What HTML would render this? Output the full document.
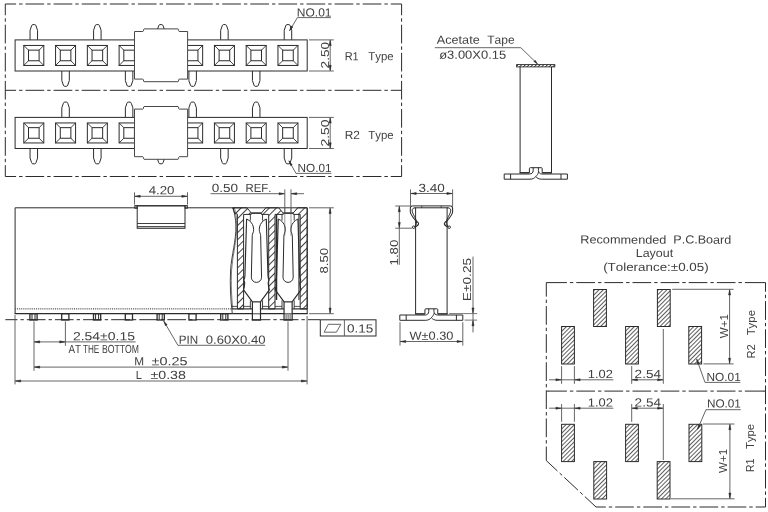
<!DOCTYPE html>
<html lang="en">
<head>
<meta charset="utf-8">
<title>Connector drawing</title>
<style>
html,body{margin:0;padding:0;background:#fff;}
body{width:768px;height:512px;overflow:hidden;}
svg{display:block;will-change:transform;}
svg *{vector-effect:none;}
.d{fill:none;stroke:#2b2b2b;stroke-width:1;stroke-linecap:butt;stroke-linejoin:miter;}
.t{white-space:pre;font-kerning:none;font-family:"Liberation Sans","DejaVu Sans",sans-serif;font-size:11.8px;fill:#404040;stroke:none;stroke-linejoin:round;}
.cl{fill:none;stroke:#2b2b2b;stroke-width:1;stroke-dasharray:18.7 3 3.4 3;}
</style>
</head>
<body>
<svg width="768" height="512" viewBox="0 0 768 512">
<defs>
<pattern id="hatch" width="3" height="3" patternUnits="userSpaceOnUse" patternTransform="rotate(-45)">
<line x1="0" y1="1.5" x2="3" y2="1.5" stroke="#333" stroke-width="0.8"/>
</pattern>
<pattern id="hatch2" width="5" height="5" patternUnits="userSpaceOnUse" patternTransform="rotate(-45)">
<line x1="0" y1="2.5" x2="5" y2="2.5" stroke="#2b2b2b" stroke-width="0.9"/>
</pattern>
<pattern id="hatch3" width="2.6" height="2.6" patternUnits="userSpaceOnUse" patternTransform="rotate(-45)">
<line x1="0" y1="1.3" x2="2.6" y2="1.3" stroke="#2b2b2b" stroke-width="0.9"/>
</pattern>
</defs>
<rect x="0" y="0" width="768" height="512" fill="#fff"/>
<g class="d">
<line class="cl" x1="5.3" y1="4" x2="401.6" y2="4" stroke-dashoffset="7.9"/>
<line class="cl" x1="5.3" y1="90.3" x2="401.6" y2="90.3" stroke-dashoffset="7.9"/>
<line class="cl" x1="5.3" y1="176.5" x2="401.6" y2="176.5" stroke-dashoffset="7.9"/>
<line class="cl" x1="5.3" y1="4" x2="5.3" y2="176.5" stroke-dashoffset="7.4"/>
<line class="cl" x1="401.6" y1="4" x2="401.6" y2="176.5" stroke-dashoffset="7.4"/>
<path d="M30.05 39.9 V30.3 L31.6 25.8 Q32 24.6 32.8 24.6 H34.8 Q35.6 24.6 36 25.8 L37.55 30.3 V39.9"/>
<path d="M61.82 71 V80.6 L63.37 85.1 Q63.77 86.3 64.57 86.3 H66.57 Q67.37 86.3 67.77 85.1 L69.32 80.6 V71"/>
<path d="M93.59 39.9 V30.3 L95.14 25.8 Q95.54 24.6 96.34 24.6 H98.34 Q99.14 24.6 99.54 25.8 L101.09 30.3 V39.9"/>
<path d="M125.36 71 V80.6 L126.91 85.1 Q127.31 86.3 128.11 86.3 H130.11 Q130.91 86.3 131.31 85.1 L132.86 80.6 V71"/>
<path d="M157.13 39.9 V30.3 L158.68 25.8 Q159.08 24.6 159.88 24.6 H161.88 Q162.68 24.6 163.08 25.8 L164.63 30.3 V39.9"/>
<path d="M188.9 71 V80.6 L190.45 85.1 Q190.85 86.3 191.65 86.3 H193.65 Q194.45 86.3 194.85 85.1 L196.4 80.6 V71"/>
<path d="M220.67 39.9 V30.3 L222.22 25.8 Q222.62 24.6 223.42 24.6 H225.42 Q226.22 24.6 226.62 25.8 L228.17 30.3 V39.9"/>
<path d="M252.44 71 V80.6 L253.99 85.1 Q254.39 86.3 255.19 86.3 H257.19 Q257.99 86.3 258.39 85.1 L259.94 80.6 V71"/>
<path d="M284.21 39.9 V30.3 L285.76 25.8 Q286.16 24.6 286.96 24.6 H288.96 Q289.76 24.6 290.16 25.8 L291.71 30.3 V39.9"/>
<rect x="15.1" y="39.9" width="292.1" height="31.1" fill="#fff"/>
<rect x="23.8" y="45.45" width="20" height="20"/>
<rect x="28.5" y="50.15" width="10.6" height="10.6"/>
<line x1="23.8" y1="45.45" x2="28.5" y2="50.15" stroke-width="0.9"/>
<line x1="23.8" y1="65.45" x2="28.5" y2="60.75" stroke-width="0.9"/>
<line x1="43.8" y1="45.45" x2="39.1" y2="50.15" stroke-width="0.9"/>
<line x1="43.8" y1="65.45" x2="39.1" y2="60.75" stroke-width="0.9"/>
<rect x="55.57" y="45.45" width="20" height="20"/>
<rect x="60.27" y="50.15" width="10.6" height="10.6"/>
<line x1="55.57" y1="45.45" x2="60.27" y2="50.15" stroke-width="0.9"/>
<line x1="55.57" y1="65.45" x2="60.27" y2="60.75" stroke-width="0.9"/>
<line x1="75.57" y1="45.45" x2="70.87" y2="50.15" stroke-width="0.9"/>
<line x1="75.57" y1="65.45" x2="70.87" y2="60.75" stroke-width="0.9"/>
<rect x="87.34" y="45.45" width="20" height="20"/>
<rect x="92.04" y="50.15" width="10.6" height="10.6"/>
<line x1="87.34" y1="45.45" x2="92.04" y2="50.15" stroke-width="0.9"/>
<line x1="87.34" y1="65.45" x2="92.04" y2="60.75" stroke-width="0.9"/>
<line x1="107.34" y1="45.45" x2="102.64" y2="50.15" stroke-width="0.9"/>
<line x1="107.34" y1="65.45" x2="102.64" y2="60.75" stroke-width="0.9"/>
<rect x="119.11" y="45.45" width="20" height="20"/>
<rect x="123.81" y="50.15" width="10.6" height="10.6"/>
<line x1="119.11" y1="45.45" x2="123.81" y2="50.15" stroke-width="0.9"/>
<line x1="119.11" y1="65.45" x2="123.81" y2="60.75" stroke-width="0.9"/>
<line x1="139.11" y1="45.45" x2="134.41" y2="50.15" stroke-width="0.9"/>
<line x1="139.11" y1="65.45" x2="134.41" y2="60.75" stroke-width="0.9"/>
<rect x="182.65" y="45.45" width="20" height="20"/>
<rect x="187.35" y="50.15" width="10.6" height="10.6"/>
<line x1="182.65" y1="45.45" x2="187.35" y2="50.15" stroke-width="0.9"/>
<line x1="182.65" y1="65.45" x2="187.35" y2="60.75" stroke-width="0.9"/>
<line x1="202.65" y1="45.45" x2="197.95" y2="50.15" stroke-width="0.9"/>
<line x1="202.65" y1="65.45" x2="197.95" y2="60.75" stroke-width="0.9"/>
<rect x="214.42" y="45.45" width="20" height="20"/>
<rect x="219.12" y="50.15" width="10.6" height="10.6"/>
<line x1="214.42" y1="45.45" x2="219.12" y2="50.15" stroke-width="0.9"/>
<line x1="214.42" y1="65.45" x2="219.12" y2="60.75" stroke-width="0.9"/>
<line x1="234.42" y1="45.45" x2="229.72" y2="50.15" stroke-width="0.9"/>
<line x1="234.42" y1="65.45" x2="229.72" y2="60.75" stroke-width="0.9"/>
<rect x="246.19" y="45.45" width="20" height="20"/>
<rect x="250.89" y="50.15" width="10.6" height="10.6"/>
<line x1="246.19" y1="45.45" x2="250.89" y2="50.15" stroke-width="0.9"/>
<line x1="246.19" y1="65.45" x2="250.89" y2="60.75" stroke-width="0.9"/>
<line x1="266.19" y1="45.45" x2="261.49" y2="50.15" stroke-width="0.9"/>
<line x1="266.19" y1="65.45" x2="261.49" y2="60.75" stroke-width="0.9"/>
<rect x="277.96" y="45.45" width="20" height="20"/>
<rect x="282.66" y="50.15" width="10.6" height="10.6"/>
<line x1="277.96" y1="45.45" x2="282.66" y2="50.15" stroke-width="0.9"/>
<line x1="277.96" y1="65.45" x2="282.66" y2="60.75" stroke-width="0.9"/>
<line x1="297.96" y1="45.45" x2="293.26" y2="50.15" stroke-width="0.9"/>
<line x1="297.96" y1="65.45" x2="293.26" y2="60.75" stroke-width="0.9"/>
<path d="M134.5 31.5 L142.9 31.5 L143.5 30.9 L143.5 29.4 L144 28.9 L178.1 28.9 L178.6 29.4 L178.6 30.9 L179.2 31.5 L187.6 31.5 L187.6 79.1 L179.2 79.1 L178.6 79.7 L178.6 81.2 L178.1 81.7 L144 81.7 L143.5 81.2 L143.5 79.7 L142.9 79.1 L134.5 79.1 Z" fill="#fff" stroke="#484848"/>
<line x1="309" y1="39.9" x2="333.8" y2="39.9" stroke-width="0.9" stroke="#555"/>
<line x1="309" y1="71" x2="333.8" y2="71" stroke-width="0.9" stroke="#555"/>
<line x1="330.2" y1="39.9" x2="330.2" y2="71" stroke-width="0.9" stroke="#555"/>
<path d="M330.2 40.5 L331.25 45.6 L329.15 45.6 Z" fill="#2b2b2b" stroke="#2b2b2b" stroke-width="0.5" stroke-linejoin="miter"/>
<path d="M330.2 70.4 L329.15 65.3 L331.25 65.3 Z" fill="#2b2b2b" stroke="#2b2b2b" stroke-width="0.5" stroke-linejoin="miter"/>
<text class="t" x="328.7" y="68.39" textLength="26.62" lengthAdjust="spacingAndGlyphs" transform="rotate(-90 328.7 68.39)" font-size="12.86" stroke="#404040" stroke-width="0.12">2.50</text>
<path d="M30.05 148.5 V158.1 L31.6 162.6 Q32 163.8 32.8 163.8 H34.8 Q35.6 163.8 36 162.6 L37.55 158.1 V148.5"/>
<path d="M61.82 117.4 V107.8 L63.37 103.3 Q63.77 102.1 64.57 102.1 H66.57 Q67.37 102.1 67.77 103.3 L69.32 107.8 V117.4"/>
<path d="M93.59 148.5 V158.1 L95.14 162.6 Q95.54 163.8 96.34 163.8 H98.34 Q99.14 163.8 99.54 162.6 L101.09 158.1 V148.5"/>
<path d="M125.36 117.4 V107.8 L126.91 103.3 Q127.31 102.1 128.11 102.1 H130.11 Q130.91 102.1 131.31 103.3 L132.86 107.8 V117.4"/>
<path d="M157.13 148.5 V158.1 L158.68 162.6 Q159.08 163.8 159.88 163.8 H161.88 Q162.68 163.8 163.08 162.6 L164.63 158.1 V148.5"/>
<path d="M188.9 117.4 V107.8 L190.45 103.3 Q190.85 102.1 191.65 102.1 H193.65 Q194.45 102.1 194.85 103.3 L196.4 107.8 V117.4"/>
<path d="M220.67 148.5 V158.1 L222.22 162.6 Q222.62 163.8 223.42 163.8 H225.42 Q226.22 163.8 226.62 162.6 L228.17 158.1 V148.5"/>
<path d="M252.44 117.4 V107.8 L253.99 103.3 Q254.39 102.1 255.19 102.1 H257.19 Q257.99 102.1 258.39 103.3 L259.94 107.8 V117.4"/>
<path d="M284.21 148.5 V158.1 L285.76 162.6 Q286.16 163.8 286.96 163.8 H288.96 Q289.76 163.8 290.16 162.6 L291.71 158.1 V148.5"/>
<rect x="15.1" y="117.4" width="292.1" height="31.1" fill="#fff"/>
<rect x="23.8" y="122.95" width="20" height="20"/>
<rect x="28.5" y="127.65" width="10.6" height="10.6"/>
<line x1="23.8" y1="122.95" x2="28.5" y2="127.65" stroke-width="0.9"/>
<line x1="23.8" y1="142.95" x2="28.5" y2="138.25" stroke-width="0.9"/>
<line x1="43.8" y1="122.95" x2="39.1" y2="127.65" stroke-width="0.9"/>
<line x1="43.8" y1="142.95" x2="39.1" y2="138.25" stroke-width="0.9"/>
<rect x="55.57" y="122.95" width="20" height="20"/>
<rect x="60.27" y="127.65" width="10.6" height="10.6"/>
<line x1="55.57" y1="122.95" x2="60.27" y2="127.65" stroke-width="0.9"/>
<line x1="55.57" y1="142.95" x2="60.27" y2="138.25" stroke-width="0.9"/>
<line x1="75.57" y1="122.95" x2="70.87" y2="127.65" stroke-width="0.9"/>
<line x1="75.57" y1="142.95" x2="70.87" y2="138.25" stroke-width="0.9"/>
<rect x="87.34" y="122.95" width="20" height="20"/>
<rect x="92.04" y="127.65" width="10.6" height="10.6"/>
<line x1="87.34" y1="122.95" x2="92.04" y2="127.65" stroke-width="0.9"/>
<line x1="87.34" y1="142.95" x2="92.04" y2="138.25" stroke-width="0.9"/>
<line x1="107.34" y1="122.95" x2="102.64" y2="127.65" stroke-width="0.9"/>
<line x1="107.34" y1="142.95" x2="102.64" y2="138.25" stroke-width="0.9"/>
<rect x="119.11" y="122.95" width="20" height="20"/>
<rect x="123.81" y="127.65" width="10.6" height="10.6"/>
<line x1="119.11" y1="122.95" x2="123.81" y2="127.65" stroke-width="0.9"/>
<line x1="119.11" y1="142.95" x2="123.81" y2="138.25" stroke-width="0.9"/>
<line x1="139.11" y1="122.95" x2="134.41" y2="127.65" stroke-width="0.9"/>
<line x1="139.11" y1="142.95" x2="134.41" y2="138.25" stroke-width="0.9"/>
<rect x="182.65" y="122.95" width="20" height="20"/>
<rect x="187.35" y="127.65" width="10.6" height="10.6"/>
<line x1="182.65" y1="122.95" x2="187.35" y2="127.65" stroke-width="0.9"/>
<line x1="182.65" y1="142.95" x2="187.35" y2="138.25" stroke-width="0.9"/>
<line x1="202.65" y1="122.95" x2="197.95" y2="127.65" stroke-width="0.9"/>
<line x1="202.65" y1="142.95" x2="197.95" y2="138.25" stroke-width="0.9"/>
<rect x="214.42" y="122.95" width="20" height="20"/>
<rect x="219.12" y="127.65" width="10.6" height="10.6"/>
<line x1="214.42" y1="122.95" x2="219.12" y2="127.65" stroke-width="0.9"/>
<line x1="214.42" y1="142.95" x2="219.12" y2="138.25" stroke-width="0.9"/>
<line x1="234.42" y1="122.95" x2="229.72" y2="127.65" stroke-width="0.9"/>
<line x1="234.42" y1="142.95" x2="229.72" y2="138.25" stroke-width="0.9"/>
<rect x="246.19" y="122.95" width="20" height="20"/>
<rect x="250.89" y="127.65" width="10.6" height="10.6"/>
<line x1="246.19" y1="122.95" x2="250.89" y2="127.65" stroke-width="0.9"/>
<line x1="246.19" y1="142.95" x2="250.89" y2="138.25" stroke-width="0.9"/>
<line x1="266.19" y1="122.95" x2="261.49" y2="127.65" stroke-width="0.9"/>
<line x1="266.19" y1="142.95" x2="261.49" y2="138.25" stroke-width="0.9"/>
<rect x="277.96" y="122.95" width="20" height="20"/>
<rect x="282.66" y="127.65" width="10.6" height="10.6"/>
<line x1="277.96" y1="122.95" x2="282.66" y2="127.65" stroke-width="0.9"/>
<line x1="277.96" y1="142.95" x2="282.66" y2="138.25" stroke-width="0.9"/>
<line x1="297.96" y1="122.95" x2="293.26" y2="127.65" stroke-width="0.9"/>
<line x1="297.96" y1="142.95" x2="293.26" y2="138.25" stroke-width="0.9"/>
<path d="M134.5 109.1 L142.9 109.1 L143.5 108.5 L143.5 107 L144 106.5 L178.1 106.5 L178.6 107 L178.6 108.5 L179.2 109.1 L187.6 109.1 L187.6 156.7 L179.2 156.7 L178.6 157.3 L178.6 158.8 L178.1 159.3 L144 159.3 L143.5 158.8 L143.5 157.3 L142.9 156.7 L134.5 156.7 Z" fill="#fff" stroke="#484848"/>
<line x1="309" y1="117.4" x2="333.8" y2="117.4" stroke-width="0.9" stroke="#555"/>
<line x1="309" y1="148.5" x2="333.8" y2="148.5" stroke-width="0.9" stroke="#555"/>
<line x1="330.2" y1="117.4" x2="330.2" y2="148.5" stroke-width="0.9" stroke="#555"/>
<path d="M330.2 118 L331.25 123.1 L329.15 123.1 Z" fill="#2b2b2b" stroke="#2b2b2b" stroke-width="0.5" stroke-linejoin="miter"/>
<path d="M330.2 147.9 L329.15 142.8 L331.25 142.8 Z" fill="#2b2b2b" stroke="#2b2b2b" stroke-width="0.5" stroke-linejoin="miter"/>
<text class="t" x="328.7" y="146.5" textLength="27.15" lengthAdjust="spacingAndGlyphs" transform="rotate(-90 328.7 146.5)" font-size="12.86" stroke="#404040" stroke-width="0.12">2.50</text>
<text class="t" x="344.7" y="60.3" textLength="14.04" lengthAdjust="spacingAndGlyphs" transform="rotate(0.05 344.7 60.3)" stroke="#404040" stroke-width="0.18">R1</text>
<text class="t" x="368.34" y="60.3" textLength="25.26" lengthAdjust="spacingAndGlyphs" transform="rotate(0.05 368.34 60.3)" stroke="#404040" stroke-width="0.15">Type</text>
<text class="t" x="344.63" y="138.9" textLength="15.17" lengthAdjust="spacingAndGlyphs" transform="rotate(0.05 344.63 138.9)" stroke="#404040" stroke-width="0.12">R2</text>
<text class="t" x="368.34" y="138.9" textLength="25.26" lengthAdjust="spacingAndGlyphs" transform="rotate(0.05 368.34 138.9)" stroke="#404040" stroke-width="0.15">Type</text>
<text class="t" x="296.82" y="16.4" textLength="34.67" lengthAdjust="spacingAndGlyphs" transform="rotate(0.05 296.82 16.4)" stroke="#404040" stroke-width="0.12">NO.01</text>
<path d="M330.9 17.6 L297.4 17.6 L289.4 31" stroke-width="0.9" stroke="#555"/>
<path d="M289.71 30.48 L291.21 26.02 L292.92 27.05 Z" fill="#2b2b2b" stroke="#2b2b2b" stroke-width="0.5" stroke-linejoin="miter"/>
<text class="t" x="297.53" y="172" textLength="34.04" lengthAdjust="spacingAndGlyphs" transform="rotate(0.05 297.53 172)" stroke="#404040" stroke-width="0.12">NO.01</text>
<path d="M331.4 173.4 L296 173.4 L288.8 160.6" stroke-width="0.9" stroke="#555"/>
<path d="M289.09 161.12 L292.22 164.64 L290.48 165.62 Z" fill="#2b2b2b" stroke="#2b2b2b" stroke-width="0.5" stroke-linejoin="miter"/>
<path d="M232 207.8 L15.1 207.8 L15.1 313.7"/>
<line x1="14.6" y1="313.7" x2="232.2" y2="313.7" stroke-width="1.3"/>
<line x1="307.2" y1="207.8" x2="307.2" y2="313.7"/>
<line x1="232" y1="207.8" x2="307.2" y2="207.8"/>
<line x1="232.2" y1="313.7" x2="307.7" y2="313.7" stroke-width="1.3"/>
<line x1="15.1" y1="308.9" x2="233" y2="308.9" stroke-dasharray="1 0.9" stroke-width="1.3" stroke="#555"/>
<rect x="137.2" y="205.8" width="47.8" height="22.5" fill="#fff"/>
<line x1="137.2" y1="223.5" x2="185" y2="223.5" stroke-width="0.9"/>
<line x1="137.2" y1="226.7" x2="185" y2="226.7"/>
<line x1="134.6" y1="205.8" x2="187.6" y2="205.8"/>
<rect x="134.8" y="205.8" width="2.4" height="2.5" stroke-width="0.8"/>
<rect x="185" y="205.8" width="2.4" height="2.5" stroke-width="0.8"/>
<line x1="134.5" y1="192.3" x2="134.5" y2="204.6" stroke-width="0.9" stroke="#555"/>
<line x1="187.5" y1="192.3" x2="187.5" y2="204.6" stroke-width="0.9" stroke="#555"/>
<line x1="134.5" y1="196.3" x2="187.5" y2="196.3" stroke-width="0.9" stroke="#555"/>
<path d="M135.1 196.3 L140.2 195.25 L140.2 197.35 Z" fill="#2b2b2b" stroke="#2b2b2b" stroke-width="0.5" stroke-linejoin="miter"/>
<path d="M186.9 196.3 L181.8 197.35 L181.8 195.25 Z" fill="#2b2b2b" stroke="#2b2b2b" stroke-width="0.5" stroke-linejoin="miter"/>
<text class="t" x="148.7" y="194.2" textLength="25.82" lengthAdjust="spacingAndGlyphs" transform="rotate(0.05 148.7 194.2)" stroke="#404040" stroke-width="0.12">4.20</text>
<rect x="29.9" y="313.7" width="7.2" height="6.3" stroke-width="1.3"/>
<line x1="32" y1="313.7" x2="32" y2="320"/>
<line x1="35" y1="313.7" x2="35" y2="320"/>
<rect x="61.7" y="313.7" width="7.2" height="6.3" stroke-width="1.3"/>
<rect x="93.5" y="313.7" width="7.2" height="6.3" stroke-width="1.3"/>
<line x1="95.6" y1="313.7" x2="95.6" y2="320"/>
<line x1="98.6" y1="313.7" x2="98.6" y2="320"/>
<rect x="125.3" y="313.7" width="7.2" height="6.3" stroke-width="1.3"/>
<rect x="157.1" y="313.7" width="7.2" height="6.3" stroke-width="1.3"/>
<line x1="159.2" y1="313.7" x2="159.2" y2="320"/>
<line x1="162.2" y1="313.7" x2="162.2" y2="320"/>
<rect x="188.9" y="313.7" width="7.2" height="6.3" stroke-width="1.3"/>
<rect x="220.7" y="313.7" width="7.2" height="6.3" stroke-width="1.3"/>
<line x1="222.8" y1="313.7" x2="222.8" y2="320"/>
<line x1="225.8" y1="313.7" x2="225.8" y2="320"/>
<path d="M232.8 207.8 C234.2 211 235.6 218 235.9 226 C236.3 240 231.4 256 230.6 270 C229.8 284 230.6 300 232.3 313.6" stroke-width="0.9"/>
<path d="M234.4 207.8 C235.6 212 236.6 218 236.8 226 C237 240 232.4 256 231.6 270 C230.9 284 231.6 298 232.8 308.8" stroke-width="0.6"/>
<path d="M232.8 207.8 L246.9 207.8 L251.4 213.1 L251.2 214.4 L243.6 214.4 L243.6 308.9 L237.4 308.9 L237.4 214.2 L234.6 213.1 Z" fill="url(#hatch2)"/>
<path d="M265.9 207.8 L278.7 207.8 L283.2 213.1 L283.2 214.4 L275 214.4 L275 308.9 L268.7 308.9 L268.7 214.4 L261.5 214.4 L261.3 213.1 Z" fill="url(#hatch2)"/>
<path d="M297.7 207.8 L307.2 207.8 L307.2 308.9 L300.2 308.9 L300.2 214.4 L293.3 214.4 L293.1 213.1 Z" fill="url(#hatch2)"/>
<line x1="251.4" y1="213.1" x2="261.3" y2="213.1" stroke-width="1.6"/>
<line x1="283.2" y1="213.1" x2="293.1" y2="213.1" stroke-width="1.6"/>
<line x1="276.5" y1="214.4" x2="276.5" y2="300" stroke-width="1.5"/>
<line x1="298.9" y1="214.4" x2="298.9" y2="300"/>
<path d="M246.6 219 L244.95 274.5 Q245.15 277.5 243.75 280 Q245.05 282 244.55 284.4 Q244.45 287 243.55 289.8 L252.45 301.8" stroke-width="1.15"/>
<path d="M246.6 219 L249.05 220.4 C252.05 222.6 253.65 226 253.65 229.6 C253.65 232.4 252.35 233.6 252.25 235.6 L251.35 277.3"/>
<line x1="250.35" y1="214.4" x2="250.35" y2="220.6" stroke-width="0.9"/>
<line x1="250.35" y1="300.4" x2="250.35" y2="308.9" stroke-width="0.9"/>
<path d="M266.3 219 L267.95 274.5 Q267.75 277.5 269.15 280 Q267.85 282 268.35 284.4 Q268.45 287 269.35 289.8 L260.45 301.8" stroke-width="1.15"/>
<path d="M266.3 219 L263.85 220.4 C260.85 222.6 259.25 226 259.25 229.6 C259.25 232.4 260.55 233.6 260.65 235.6 L261.55 277.3"/>
<line x1="262.55" y1="214.4" x2="262.55" y2="220.6" stroke-width="0.9"/>
<line x1="262.55" y1="300.4" x2="262.55" y2="308.9" stroke-width="0.9"/>
<path d="M251.35 277.3 A5.1 5.1 0 0 0 261.55 277.3"/>
<rect x="252.4" y="301.85" width="8.1" height="18.25" stroke-width="1.2" fill="#fff"/>
<line x1="252.4" y1="313.8" x2="260.5" y2="313.8" stroke-width="0.9"/>
<path d="M278.25 219 L276.6 274.5 Q276.8 277.5 275.4 280 Q276.7 282 276.2 284.4 Q276.1 287 275.2 289.8 L284.1 301.8" stroke-width="1.15"/>
<path d="M278.25 219 L280.7 220.4 C283.7 222.6 285.3 226 285.3 229.6 C285.3 232.4 284 233.6 283.9 235.6 L283 277.3"/>
<line x1="282" y1="214.4" x2="282" y2="220.6" stroke-width="0.9"/>
<line x1="282" y1="300.4" x2="282" y2="308.9" stroke-width="0.9"/>
<path d="M297.95 219 L299.6 274.5 Q299.4 277.5 300.8 280 Q299.5 282 300 284.4 Q300.1 287 301 289.8 L292.1 301.8" stroke-width="1.15"/>
<path d="M297.95 219 L295.5 220.4 C292.5 222.6 290.9 226 290.9 229.6 C290.9 232.4 292.2 233.6 292.3 235.6 L293.2 277.3"/>
<line x1="294.2" y1="214.4" x2="294.2" y2="220.6" stroke-width="0.9"/>
<line x1="294.2" y1="300.4" x2="294.2" y2="308.9" stroke-width="0.9"/>
<path d="M283 277.3 A5.1 5.1 0 0 0 293.2 277.3"/>
<rect x="284.05" y="301.85" width="8.1" height="18.25" stroke-width="1.2" fill="#fff"/>
<line x1="284.05" y1="313.8" x2="292.15" y2="313.8" stroke-width="0.9"/>
<line x1="286.1" y1="314.4" x2="286.1" y2="320.1" stroke-width="0.8"/>
<line x1="288.1" y1="314.4" x2="288.1" y2="320.1" stroke-width="0.8"/>
<line x1="290.1" y1="314.4" x2="290.1" y2="320.1" stroke-width="0.8"/>
<line x1="232.4" y1="308.9" x2="252.4" y2="308.9" stroke-width="1.2"/>
<line x1="260.5" y1="308.9" x2="284" y2="308.9" stroke-width="1.2"/>
<line x1="292.2" y1="308.9" x2="307.2" y2="308.9" stroke-width="1.2"/>
<line x1="231.6" y1="306.4" x2="237.4" y2="306.4" stroke-width="0.8"/>
<line x1="243.6" y1="306.4" x2="250.3" y2="306.4" stroke-width="0.8"/>
<line x1="262.4" y1="306.4" x2="268.7" y2="306.4" stroke-width="0.8"/>
<line x1="275" y1="306.4" x2="282" y2="306.4" stroke-width="0.8"/>
<line x1="294.2" y1="306.4" x2="300.2" y2="306.4" stroke-width="0.8"/>
<line x1="284.8" y1="189.4" x2="284.8" y2="213" stroke-width="0.9" stroke="#555"/>
<line x1="291" y1="189.4" x2="291" y2="213" stroke-width="0.9" stroke="#555"/>
<line x1="284.8" y1="207.8" x2="284.8" y2="236" stroke-width="0.6" stroke="#555"/>
<line x1="291" y1="207.8" x2="291" y2="236" stroke-width="0.6" stroke="#555"/>
<line x1="210.6" y1="193.7" x2="284.8" y2="193.7" stroke-width="0.9" stroke="#555"/>
<line x1="291" y1="193.7" x2="304" y2="193.7" stroke-width="0.9" stroke="#555"/>
<path d="M284.2 193.7 L279.1 194.75 L279.1 192.65 Z" fill="#2b2b2b" stroke="#2b2b2b" stroke-width="0.5" stroke-linejoin="miter"/>
<path d="M291.6 193.7 L296.7 192.65 L296.7 194.75 Z" fill="#2b2b2b" stroke="#2b2b2b" stroke-width="0.5" stroke-linejoin="miter"/>
<text class="t" x="211.67" y="191.9" textLength="26.36" lengthAdjust="spacingAndGlyphs" transform="rotate(0.05 211.67 191.9)" stroke="#404040" stroke-width="0.12">0.50</text>
<text class="t" x="245.47" y="191.9" textLength="25.87" lengthAdjust="spacingAndGlyphs" transform="rotate(0.05 245.47 191.9)" stroke="#404040" stroke-width="0.15">REF.</text>
<line x1="309" y1="207.8" x2="333.8" y2="207.8" stroke-width="0.9" stroke="#555"/>
<line x1="309" y1="313.7" x2="333.8" y2="313.7" stroke-width="0.9" stroke="#555"/>
<line x1="330.1" y1="207.8" x2="330.1" y2="313.7" stroke-width="0.9" stroke="#555"/>
<path d="M330.1 208.4 L331.15 213.5 L329.05 213.5 Z" fill="#2b2b2b" stroke="#2b2b2b" stroke-width="0.5" stroke-linejoin="miter"/>
<path d="M330.1 313.1 L329.05 308 L331.15 308 Z" fill="#2b2b2b" stroke="#2b2b2b" stroke-width="0.5" stroke-linejoin="miter"/>
<text class="t" x="328.5" y="273.57" textLength="25.69" lengthAdjust="spacingAndGlyphs" transform="rotate(-90 328.5 273.57)" font-size="12.86" stroke="#404040" stroke-width="0.12">8.50</text>
<line class="cl" x1="5.3" y1="319.7" x2="320" y2="319.7" stroke-dashoffset="6.55"/>
<rect x="320.3" y="319.8" width="55.7" height="16.2"/>
<line x1="344.4" y1="319.8" x2="344.4" y2="336" stroke-width="0.9" stroke="#555"/>
<path d="M324.1 332.2 L328.3 324.3 L340.9 324.3 L336.4 332.2 Z" stroke-width="0.9" stroke="#555"/>
<text class="t" x="346.97" y="332.5" textLength="26.3" lengthAdjust="spacingAndGlyphs" transform="rotate(0.05 346.97 332.5)" stroke="#404040" stroke-width="0.12">0.15</text>
<line x1="34" y1="321.4" x2="34" y2="370.8" stroke-width="0.9" stroke="#555"/>
<line x1="65.4" y1="321.4" x2="65.4" y2="345.8" stroke-width="0.9" stroke="#555"/>
<line x1="34" y1="341.9" x2="135.6" y2="341.9" stroke-width="0.9" stroke="#555"/>
<path d="M34.6 341.9 L39.7 340.85 L39.7 342.95 Z" fill="#2b2b2b" stroke="#2b2b2b" stroke-width="0.5" stroke-linejoin="miter"/>
<path d="M64.8 341.9 L59.7 342.95 L59.7 340.85 Z" fill="#2b2b2b" stroke="#2b2b2b" stroke-width="0.5" stroke-linejoin="miter"/>
<text class="t" x="72.9" y="340.3" textLength="62.09" lengthAdjust="spacingAndGlyphs" transform="rotate(0.05 72.9 340.3)" stroke="#404040" stroke-width="0.12">2.54±0.15</text>
<text class="t" x="68.38" y="353.1" textLength="12.54" lengthAdjust="spacingAndGlyphs" transform="rotate(0.05 68.38 353.1)" stroke="#404040" stroke-width="0.27">AT</text>
<text class="t" x="82.92" y="353.1" textLength="16.33" lengthAdjust="spacingAndGlyphs" transform="rotate(0.05 82.92 353.1)" stroke="#404040" stroke-width="0.4">THE</text>
<text class="t" x="101.99" y="353.1" textLength="37.02" lengthAdjust="spacingAndGlyphs" transform="rotate(0.05 101.99 353.1)" stroke="#404040" stroke-width="0.36">BOTTOM</text>
<line x1="288" y1="321.4" x2="288" y2="370.8" stroke-width="0.9" stroke="#555"/>
<line x1="34" y1="367.1" x2="288" y2="367.1" stroke-width="0.9" stroke="#555"/>
<path d="M34.6 367.1 L39.7 366.05 L39.7 368.15 Z" fill="#2b2b2b" stroke="#2b2b2b" stroke-width="0.5" stroke-linejoin="miter"/>
<path d="M287.4 367.1 L282.3 368.15 L282.3 366.05 Z" fill="#2b2b2b" stroke="#2b2b2b" stroke-width="0.5" stroke-linejoin="miter"/>
<text class="t" x="134.23" y="365.3" textLength="9.84" lengthAdjust="spacingAndGlyphs" transform="rotate(0.05 134.23 365.3)" stroke="#404040" stroke-width="0.12">M</text>
<text class="t" x="151.54" y="365.3" textLength="35.96" lengthAdjust="spacingAndGlyphs" transform="rotate(0.05 151.54 365.3)" stroke="#404040" stroke-width="0.12">±0.25</text>
<line x1="15" y1="315" x2="15" y2="384.4" stroke-width="0.9" stroke="#555"/>
<line x1="307.1" y1="316" x2="307.1" y2="384.4" stroke-width="0.9" stroke="#555"/>
<line x1="15" y1="381" x2="307.1" y2="381" stroke-width="0.9" stroke="#555"/>
<path d="M15.6 381 L20.7 379.95 L20.7 382.05 Z" fill="#2b2b2b" stroke="#2b2b2b" stroke-width="0.5" stroke-linejoin="miter"/>
<path d="M306.5 381 L301.4 382.05 L301.4 379.95 Z" fill="#2b2b2b" stroke="#2b2b2b" stroke-width="0.5" stroke-linejoin="miter"/>
<text class="t" x="135.79" y="379.1" textLength="6.18" lengthAdjust="spacingAndGlyphs" transform="rotate(0.05 135.79 379.1)" stroke="#404040" stroke-width="0.17">L</text>
<text class="t" x="150.45" y="379.1" textLength="35.47" lengthAdjust="spacingAndGlyphs" transform="rotate(0.05 150.45 379.1)" stroke="#404040" stroke-width="0.12">±0.38</text>
<path d="M163.6 320.8 L177.9 345.3 L265.2 345.3" stroke-width="0.9" stroke="#555"/>
<path d="M163.91 321.32 L167.11 324.77 L165.38 325.79 Z" fill="#2b2b2b" stroke="#2b2b2b" stroke-width="0.5" stroke-linejoin="miter"/>
<text class="t" x="178.85" y="343.75" textLength="19.4" lengthAdjust="spacingAndGlyphs" transform="rotate(0.05 178.85 343.75)" stroke="#404040" stroke-width="0.13">PIN</text>
<text class="t" x="205.79" y="343.75" textLength="59.72" lengthAdjust="spacingAndGlyphs" transform="rotate(0.05 205.79 343.75)" stroke="#404040" stroke-width="0.12">0.60X0.40</text>
<line x1="520.1" y1="66.8" x2="520.1" y2="172.8"/>
<line x1="551.5" y1="66.8" x2="551.5" y2="172.8"/>
<line x1="519.6" y1="172.8" x2="529.4" y2="172.8" stroke-width="1.5"/>
<line x1="542.2" y1="172.8" x2="552" y2="172.8" stroke-width="1.5"/>
<path d="M529.4 172.8 V168.6 Q529.4 167.7 530.3 167.7 H541.3 Q542.2 167.7 542.2 168.6 V172.8"/>
<path d="M529.6 174 H504.2 V179.2 H530"/>
<path d="M529.6 174 C531.6 174 533.2 172.7 533.2 170.6 V167.7"/>
<path d="M530 179.2 C532.8 179.2 534.6 178 535.8 176.6 C537 175.2 538.4 173.8 538.4 172.2"/>
<line x1="510.6" y1="174" x2="510.6" y2="179.2"/>
<path d="M542 174 H567.4 V179.2 H541.6"/>
<path d="M542 174 C540 174 538.4 172.7 538.4 170.6 V167.7"/>
<path d="M541.6 179.2 C538.8 179.2 537 178 535.8 176.6"/>
<line x1="561" y1="174" x2="561" y2="179.2"/>
<rect x="516.6" y="64.6" width="38.2" height="2.3" stroke-width="0.9" fill="url(#hatch3)"/>
<text class="t" x="436.88" y="43.8" textLength="42.79" lengthAdjust="spacingAndGlyphs" transform="rotate(0.05 436.88 43.8)" stroke="#404040" stroke-width="0.12">Acetate</text>
<text class="t" x="487.23" y="43.8" textLength="27.4" lengthAdjust="spacingAndGlyphs" transform="rotate(0.05 487.23 43.8)" stroke="#404040" stroke-width="0.12">Tape</text>
<text class="t" x="439.22" y="58.7" textLength="66.92" lengthAdjust="spacingAndGlyphs" transform="rotate(0.05 439.22 58.7)" stroke="#404040" stroke-width="0.12">ø3.00X0.15</text>
<path d="M434.8 47.7 L520.8 47.7 L537.8 64.2" stroke-width="0.9" stroke="#555"/>
<path d="M537.38 63.78 L533.91 61.58 L535.18 60.31 Z" fill="#2b2b2b" stroke="#2b2b2b" stroke-width="0.5" stroke-linejoin="miter"/>
<line x1="415.6" y1="208" x2="415.6" y2="313.9"/>
<line x1="447.1" y1="208" x2="447.1" y2="313.9"/>
<line x1="415.1" y1="313.9" x2="424.95" y2="313.9" stroke-width="1.5"/>
<line x1="437.75" y1="313.9" x2="447.6" y2="313.9" stroke-width="1.5"/>
<path d="M424.95 313.9 V309.7 Q424.95 308.8 425.85 308.8 H436.85 Q437.75 308.8 437.75 309.7 V313.9"/>
<path d="M425.15 315 H399.8 V320.3 H425.55"/>
<path d="M425.15 315 C427.15 315 428.75 313.7 428.75 311.6 V308.8"/>
<path d="M425.55 320.3 C428.35 320.3 430.15 319.1 431.35 317.7 C432.55 316.3 433.95 314.9 433.95 313.3"/>
<line x1="406.2" y1="315" x2="406.2" y2="320.3"/>
<path d="M437.55 315 H462.8 V320.3 H437.15"/>
<path d="M437.55 315 C435.55 315 433.95 313.7 433.95 311.6 V308.8"/>
<path d="M437.15 320.3 C434.35 320.3 432.55 319.1 431.35 317.7"/>
<line x1="456.4" y1="315" x2="456.4" y2="320.3"/>
<line x1="412.2" y1="205.9" x2="450.7" y2="205.9"/>
<line x1="414.6" y1="207.8" x2="448.3" y2="207.8"/>
<path d="M412.2 205.9 C410.8 205.9 410.3 206.8 410.3 208.5 V212 C410.5 214.5 413.5 218 415.6 220.6 C417.4 221.8 418.7 222.6 418.6 223.6 C418.4 225.2 416.8 226.2 415 226.7" stroke-width="1.05"/>
<path d="M415.6 207.8 C413.4 207.8 412.2 208.6 412.1 210 C412 212.5 414 215.5 415.9 219.4 C416.5 221 416.7 222.5 416.5 223.6 C416.2 224.8 415.6 225.6 414.8 226" stroke-width="0.95"/>
<circle cx="413.7" cy="227.2" r="1.25" stroke-width="1"/>
<path d="M450.7 205.9 C452.1 205.9 452.6 206.8 452.6 208.5 V212 C452.4 214.5 449.4 218 447.3 220.6 C445.5 221.8 444.2 222.6 444.3 223.6 C444.5 225.2 446.1 226.2 447.9 226.7" stroke-width="1.05"/>
<path d="M447.3 207.8 C449.5 207.8 450.7 208.6 450.8 210 C450.9 212.5 448.9 215.5 447 219.4 C446.4 221 446.2 222.5 446.4 223.6 C446.7 224.8 447.3 225.6 448.1 226" stroke-width="0.95"/>
<circle cx="449.2" cy="227.2" r="1.25" stroke-width="1"/>
<line x1="421.8" y1="205.9" x2="421.8" y2="207.8" stroke-width="0.8"/>
<line x1="441.2" y1="205.9" x2="441.2" y2="207.8" stroke-width="0.8"/>
<line x1="410.5" y1="189.4" x2="410.5" y2="206.6" stroke-width="0.9" stroke="#555"/>
<line x1="452.6" y1="189.4" x2="452.6" y2="206.6" stroke-width="0.9" stroke="#555"/>
<line x1="410.5" y1="193.5" x2="452.6" y2="193.5" stroke-width="0.9" stroke="#555"/>
<path d="M411.1 193.5 L416.2 192.45 L416.2 194.55 Z" fill="#2b2b2b" stroke="#2b2b2b" stroke-width="0.5" stroke-linejoin="miter"/>
<path d="M452 193.5 L446.9 194.55 L446.9 192.45 Z" fill="#2b2b2b" stroke="#2b2b2b" stroke-width="0.5" stroke-linejoin="miter"/>
<text class="t" x="418.49" y="192.1" textLength="26.24" lengthAdjust="spacingAndGlyphs" transform="rotate(0.05 418.49 192.1)" stroke="#404040" stroke-width="0.12">3.40</text>
<line x1="395.2" y1="206" x2="410.2" y2="206" stroke-width="0.9" stroke="#555"/>
<line x1="395.2" y1="228.2" x2="412.2" y2="228.2" stroke-width="0.9" stroke="#555"/>
<line x1="399.3" y1="206" x2="399.3" y2="264.8" stroke-width="0.9" stroke="#555"/>
<path d="M399.3 206.6 L400.35 211.7 L398.25 211.7 Z" fill="#2b2b2b" stroke="#2b2b2b" stroke-width="0.5" stroke-linejoin="miter"/>
<path d="M399.3 227.6 L398.25 222.5 L400.35 222.5 Z" fill="#2b2b2b" stroke="#2b2b2b" stroke-width="0.5" stroke-linejoin="miter"/>
<text class="t" x="397.6" y="265.41" textLength="25.72" lengthAdjust="spacingAndGlyphs" transform="rotate(-90 397.6 265.41)" font-size="12.86" stroke="#404040" stroke-width="0.12">1.80</text>
<line x1="473" y1="256.6" x2="473" y2="332.4" stroke-width="0.9" stroke="#555"/>
<line x1="449.2" y1="313.6" x2="477.2" y2="313.6" stroke-width="0.8" stroke="#555"/>
<line x1="464.6" y1="320.1" x2="477.2" y2="320.1" stroke-width="0.8" stroke="#555"/>
<path d="M473 313 L471.95 307.9 L474.05 307.9 Z" fill="#2b2b2b" stroke="#2b2b2b" stroke-width="0.5" stroke-linejoin="miter"/>
<path d="M473 320.7 L474.05 325.8 L471.95 325.8 Z" fill="#2b2b2b" stroke="#2b2b2b" stroke-width="0.5" stroke-linejoin="miter"/>
<text class="t" x="471.3" y="301.23" textLength="43.4" lengthAdjust="spacingAndGlyphs" transform="rotate(-90 471.3 301.23)" font-size="12.86" stroke="#404040" stroke-width="0.12">E±0.25</text>
<line x1="400" y1="322.2" x2="400" y2="345.6" stroke-width="0.9" stroke="#555"/>
<line x1="462.8" y1="322.2" x2="462.8" y2="345.6" stroke-width="0.9" stroke="#555"/>
<line x1="400" y1="341.5" x2="462.8" y2="341.5" stroke-width="0.9" stroke="#555"/>
<path d="M400.6 341.5 L405.7 340.45 L405.7 342.55 Z" fill="#2b2b2b" stroke="#2b2b2b" stroke-width="0.5" stroke-linejoin="miter"/>
<path d="M462.2 341.5 L457.1 342.55 L457.1 340.45 Z" fill="#2b2b2b" stroke="#2b2b2b" stroke-width="0.5" stroke-linejoin="miter"/>
<text class="t" x="409.54" y="339.75" textLength="43.96" lengthAdjust="spacingAndGlyphs" transform="rotate(0.05 409.54 339.75)" stroke="#404040" stroke-width="0.12">W±0.30</text>
<text class="t" x="580.26" y="243.6" textLength="86.16" lengthAdjust="spacingAndGlyphs" transform="rotate(0.05 580.26 243.6)" stroke="#404040" stroke-width="0.12">Recommended</text>
<text class="t" x="673.27" y="243.6" textLength="58.04" lengthAdjust="spacingAndGlyphs" transform="rotate(0.05 673.27 243.6)" stroke="#404040" stroke-width="0.12">P.C.Board</text>
<text class="t" x="635.78" y="256.9" textLength="37.41" lengthAdjust="spacingAndGlyphs" transform="rotate(0.05 635.78 256.9)" stroke="#404040" stroke-width="0.12">Layout</text>
<text class="t" x="603.17" y="271" textLength="105.46" lengthAdjust="spacingAndGlyphs" transform="rotate(0.05 603.17 271)" stroke="#404040" stroke-width="0.12">(Tolerance:±0.05)</text>
<line x1="546.3" y1="282.6" x2="548.7" y2="282.6"/>
<line class="cl" x1="548.2" y1="282.6" x2="765.5" y2="282.6"/>
<line x1="763.1" y1="282.6" x2="765.5" y2="282.6"/>
<line x1="546.3" y1="391.1" x2="548.7" y2="391.1"/>
<line class="cl" x1="548.2" y1="391.1" x2="765.5" y2="391.1"/>
<line x1="763.1" y1="391.1" x2="765.5" y2="391.1"/>
<line class="cl" x1="546.3" y1="282.6" x2="546.3" y2="460.6" stroke-dashoffset="4.65"/>
<line class="cl" x1="546.3" y1="460.6" x2="596" y2="507" stroke-dashoffset="3.45"/>
<line class="cl" x1="596" y1="507" x2="765.5" y2="507" stroke-dashoffset="8.9"/>
<line class="cl" x1="765.5" y1="282.6" x2="765.5" y2="507" stroke-dashoffset="9.55"/>
<rect x="593.6" y="289.5" width="12.8" height="37" fill="url(#hatch)"/>
<rect x="657.4" y="289.5" width="12.8" height="37" fill="url(#hatch)"/>
<rect x="561.6" y="326.5" width="12.8" height="37.5" fill="url(#hatch)"/>
<rect x="625.6" y="326.5" width="12.8" height="37.5" fill="url(#hatch)"/>
<rect x="688.8" y="326.5" width="12.8" height="37.5" fill="url(#hatch)"/>
<rect x="561.6" y="424.3" width="12.8" height="37.3" fill="url(#hatch)"/>
<rect x="625.6" y="424.3" width="12.8" height="37.3" fill="url(#hatch)"/>
<rect x="689" y="424.3" width="12.8" height="37.3" fill="url(#hatch)"/>
<rect x="593.8" y="461.6" width="12.8" height="37.4" fill="url(#hatch)"/>
<rect x="657.2" y="461.6" width="12.8" height="37.4" fill="url(#hatch)"/>
<line x1="561.6" y1="366.1" x2="561.6" y2="383.8" stroke-width="0.9" stroke="#555"/>
<line x1="574.4" y1="366.1" x2="574.4" y2="383.8" stroke-width="0.9" stroke="#555"/>
<line x1="549.1" y1="379.8" x2="613.4" y2="379.8" stroke-width="0.9" stroke="#555"/>
<path d="M561 379.8 L555.9 380.85 L555.9 378.75 Z" fill="#2b2b2b" stroke="#2b2b2b" stroke-width="0.5" stroke-linejoin="miter"/>
<path d="M575 379.8 L580.1 378.75 L580.1 380.85 Z" fill="#2b2b2b" stroke="#2b2b2b" stroke-width="0.5" stroke-linejoin="miter"/>
<text class="t" x="587.77" y="378" textLength="25.08" lengthAdjust="spacingAndGlyphs" transform="rotate(0.05 587.77 378)" stroke="#404040" stroke-width="0.12">1.02</text>
<line x1="631.7" y1="366.1" x2="631.7" y2="383.8" stroke-width="0.9" stroke="#555"/>
<line x1="663.3" y1="329" x2="663.3" y2="383.8" stroke-width="0.9" stroke="#555"/>
<line x1="631.7" y1="379.8" x2="663.3" y2="379.8" stroke-width="0.9" stroke="#555"/>
<path d="M632.3 379.8 L637.4 378.75 L637.4 380.85 Z" fill="#2b2b2b" stroke="#2b2b2b" stroke-width="0.5" stroke-linejoin="miter"/>
<path d="M662.7 379.8 L657.6 380.85 L657.6 378.75 Z" fill="#2b2b2b" stroke="#2b2b2b" stroke-width="0.5" stroke-linejoin="miter"/>
<text class="t" x="634.62" y="378" textLength="26.38" lengthAdjust="spacingAndGlyphs" transform="rotate(0.05 634.62 378)" stroke="#404040" stroke-width="0.12">2.54</text>
<text class="t" x="706.53" y="381" textLength="34.25" lengthAdjust="spacingAndGlyphs" transform="rotate(0.05 706.53 381)" stroke="#404040" stroke-width="0.12">NO.01</text>
<path d="M740.4 382.4 L705 382.4 L696.6 358.8" stroke-width="0.9" stroke="#555"/>
<path d="M696.8 359.37 L699.29 363.36 L697.4 364.03 Z" fill="#2b2b2b" stroke="#2b2b2b" stroke-width="0.5" stroke-linejoin="miter"/>
<line x1="672.2" y1="289.3" x2="733.6" y2="289.3" stroke-width="0.9" stroke="#555"/>
<line x1="703.4" y1="363.9" x2="733.6" y2="363.9" stroke-width="0.9" stroke="#555"/>
<line x1="729.6" y1="289.3" x2="729.6" y2="363.9" stroke-width="0.9" stroke="#555"/>
<path d="M729.6 289.9 L730.65 295 L728.55 295 Z" fill="#2b2b2b" stroke="#2b2b2b" stroke-width="0.5" stroke-linejoin="miter"/>
<path d="M729.6 363.3 L728.55 358.2 L730.65 358.2 Z" fill="#2b2b2b" stroke="#2b2b2b" stroke-width="0.5" stroke-linejoin="miter"/>
<text class="t" x="727.5" y="338.25" textLength="24.12" lengthAdjust="spacingAndGlyphs" transform="rotate(-90 727.5 338.25)" font-size="12.86" stroke="#404040" stroke-width="0.21">W+1</text>
<text class="t" x="755.3" y="358.62" textLength="14.28" lengthAdjust="spacingAndGlyphs" transform="rotate(-90 755.3 358.62)" font-size="12.86" stroke="#404040" stroke-width="0.24">R2</text>
<text class="t" x="755.3" y="335.36" textLength="25.36" lengthAdjust="spacingAndGlyphs" transform="rotate(-90 755.3 335.36)" font-size="12.86" stroke="#404040" stroke-width="0.22">Type</text>
<line x1="561.6" y1="404" x2="561.6" y2="421.8" stroke-width="0.9" stroke="#555"/>
<line x1="574.4" y1="404" x2="574.4" y2="421.8" stroke-width="0.9" stroke="#555"/>
<line x1="549.1" y1="408.2" x2="613.4" y2="408.2" stroke-width="0.9" stroke="#555"/>
<path d="M561 408.2 L555.9 409.25 L555.9 407.15 Z" fill="#2b2b2b" stroke="#2b2b2b" stroke-width="0.5" stroke-linejoin="miter"/>
<path d="M575 408.2 L580.1 407.15 L580.1 409.25 Z" fill="#2b2b2b" stroke="#2b2b2b" stroke-width="0.5" stroke-linejoin="miter"/>
<text class="t" x="587.77" y="406.4" textLength="25.08" lengthAdjust="spacingAndGlyphs" transform="rotate(0.05 587.77 406.4)" stroke="#404040" stroke-width="0.12">1.02</text>
<line x1="631.7" y1="404" x2="631.7" y2="421.8" stroke-width="0.9" stroke="#555"/>
<line x1="663.3" y1="404" x2="663.3" y2="460" stroke-width="0.9" stroke="#555"/>
<line x1="631.7" y1="408.2" x2="663.3" y2="408.2" stroke-width="0.9" stroke="#555"/>
<path d="M632.3 408.2 L637.4 407.15 L637.4 409.25 Z" fill="#2b2b2b" stroke="#2b2b2b" stroke-width="0.5" stroke-linejoin="miter"/>
<path d="M662.7 408.2 L657.6 409.25 L657.6 407.15 Z" fill="#2b2b2b" stroke="#2b2b2b" stroke-width="0.5" stroke-linejoin="miter"/>
<text class="t" x="634.62" y="406.4" textLength="26.38" lengthAdjust="spacingAndGlyphs" transform="rotate(0.05 634.62 406.4)" stroke="#404040" stroke-width="0.12">2.54</text>
<text class="t" x="706.94" y="407.4" textLength="33.94" lengthAdjust="spacingAndGlyphs" transform="rotate(0.05 706.94 407.4)" stroke="#404040" stroke-width="0.12">NO.01</text>
<path d="M740.8 409.7 L706 409.7 L697.4 429.6" stroke-width="0.9" stroke="#555"/>
<path d="M697.64 429.05 L698.54 424.43 L700.38 425.22 Z" fill="#2b2b2b" stroke="#2b2b2b" stroke-width="0.5" stroke-linejoin="miter"/>
<line x1="703" y1="424" x2="734.5" y2="424" stroke-width="0.9" stroke="#555"/>
<line x1="671" y1="498.8" x2="734.5" y2="498.8" stroke-width="0.9" stroke="#555"/>
<line x1="729.9" y1="424" x2="729.9" y2="498.8" stroke-width="0.9" stroke="#555"/>
<path d="M729.9 424.6 L730.95 429.7 L728.85 429.7 Z" fill="#2b2b2b" stroke="#2b2b2b" stroke-width="0.5" stroke-linejoin="miter"/>
<path d="M729.9 498.2 L728.85 493.1 L730.95 493.1 Z" fill="#2b2b2b" stroke="#2b2b2b" stroke-width="0.5" stroke-linejoin="miter"/>
<text class="t" x="727.5" y="472.95" textLength="24.01" lengthAdjust="spacingAndGlyphs" transform="rotate(-90 727.5 472.95)" font-size="12.86" stroke="#404040" stroke-width="0.21">W+1</text>
<text class="t" x="754" y="472.29" textLength="13.93" lengthAdjust="spacingAndGlyphs" transform="rotate(-90 754 472.29)" font-size="12.86" stroke="#404040" stroke-width="0.26">R1</text>
<text class="t" x="754" y="449.06" textLength="25.26" lengthAdjust="spacingAndGlyphs" transform="rotate(-90 754 449.06)" font-size="12.86" stroke="#404040" stroke-width="0.22">Type</text>
</g>
</svg>
</body>
</html>
